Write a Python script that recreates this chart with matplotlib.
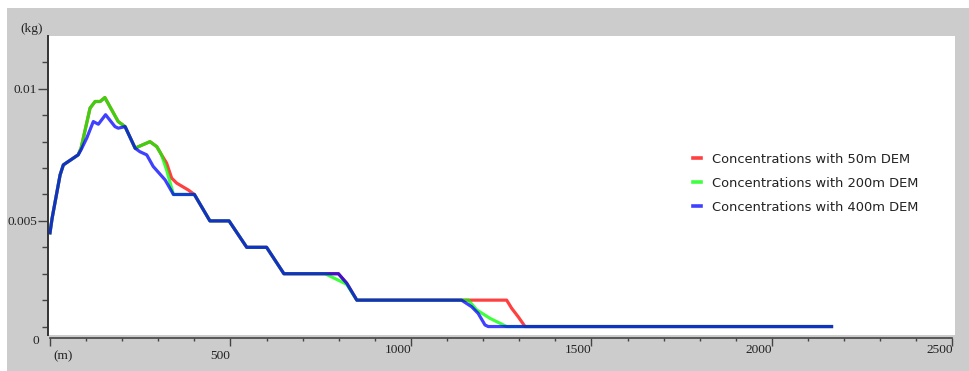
import matplotlib
matplotlib.use("Agg")
import matplotlib.pyplot as plt
from matplotlib.patches import Rectangle
from matplotlib.ticker import FixedLocator, MultipleLocator
import matplotlib.transforms as mtrans

# ---------------- data ----------------
x_50 = [0, 6, 28, 37, 78, 86, 111, 125, 139, 152, 189, 208, 236, 245, 277, 296,
        309, 323, 337, 351, 383, 400, 443, 496, 545, 600, 648, 799, 822, 850,
        1265, 1279, 1297, 1316, 2165]
y_50 = [0.00455, 0.00511, 0.00674, 0.00712, 0.0075, 0.00775, 0.00927, 0.00952,
        0.00952, 0.00967, 0.00876, 0.00857, 0.00775, 0.00781, 0.0080, 0.00781,
        0.0075, 0.00719, 0.00662, 0.00643, 0.00617, 0.006, 0.005, 0.005, 0.004,
        0.004, 0.003, 0.003, 0.00264, 0.002, 0.002, 0.00169, 0.00137, 0.001, 0.001]

x_200 = [0, 6, 28, 37, 78, 86, 111, 125, 139, 152, 189, 208, 236, 245, 277, 296,
         309, 323, 337, 342, 400, 443, 496, 545, 600, 648, 762, 822, 850,
         1159, 1182, 1219, 1265, 2165]
y_200 = [0.00455, 0.00511, 0.00674, 0.00712, 0.0075, 0.00775, 0.00927, 0.00952,
         0.00952, 0.00967, 0.00876, 0.00857, 0.00775, 0.00781, 0.0080, 0.00781,
         0.0075, 0.00693, 0.00624, 0.006, 0.006, 0.005, 0.005, 0.004, 0.004,
         0.003, 0.003, 0.0026, 0.002, 0.002, 0.00163, 0.00131, 0.001, 0.001]

x_400 = [0, 6, 28, 37, 78, 86, 102, 120, 134, 154, 180, 189, 208, 236, 249, 268,
         286, 319, 342, 400, 443, 496, 545, 600, 648, 799, 822, 850, 1140, 1168,
         1186, 1205, 1214, 2165]
y_400 = [0.00455, 0.00511, 0.00674, 0.00712, 0.0075, 0.00769, 0.00814, 0.00876,
         0.00866, 0.00902, 0.00857, 0.00851, 0.00857, 0.00775, 0.00762, 0.0075,
         0.00706, 0.00655, 0.006, 0.006, 0.005, 0.005, 0.004, 0.004, 0.003, 0.003,
         0.00264, 0.002, 0.002, 0.00175, 0.0015, 0.00106, 0.001, 0.001]

labels = ["Concentrations with 50m DEM",
          "Concentrations with 200m DEM",
          "Concentrations with 400m DEM"]
colors = ["#ff0000", "#00ff00", "#0000ff"]

x_ticks = [0, 500, 1000, 1500, 2000, 2500]
x_tick_labels = ["(m)", "500", "1000", "1500", "2000", "2500"]
y_ticks = [0.005, 0.01]
y_tick_labels = ["0.005", "0.01"]
y_minor = [0.001, 0.002, 0.003, 0.004, 0.006, 0.007, 0.008, 0.009, 0.011]

# ---------------- figure ----------------
W, H = 969, 371
fig = plt.figure(figsize=(W / 100, H / 100), dpi=100)
fig.patch.set_facecolor("white")
fig.patches.append(Rectangle((7 / W, 0), 1, 1 - 8 / H, transform=fig.transFigure,
                             facecolor="#cccccc", edgecolor="none", zorder=-10))

L, R, T, B = 48, 955, 36, 335
ax = fig.add_axes([L / W, 1 - B / H, (R - L) / W, (B - T) / H])
ax.set_facecolor("white")

for xs, ys, c, lab in zip([x_50, x_200, x_400], [y_50, y_200, y_400], colors, labels):
    ax.plot(xs, ys, color=c, alpha=0.75, lw=2.3, label=lab, solid_joinstyle="round")

ax.set_xlim(-5.5, 2507)
ax.set_ylim(0.00068, 0.012)

serif = "Liberation Serif"
fs_tick = 9.6
for s in ["top", "right"]:
    ax.spines[s].set_visible(False)
ax.spines["left"].set_color("#333333")
ax.spines["left"].set_linewidth(1.4)
ax.spines["bottom"].set_color("#444444")
ax.spines["bottom"].set_linewidth(1.2)
ax.spines["bottom"].set_position(("outward", 2.5))
ax.spines["bottom"].set_bounds(0, 2500)

ax.set_xticks(x_ticks)
ax.set_xticklabels(x_tick_labels, fontfamily=serif, fontsize=fs_tick, color="#222222")
ax.xaxis.set_minor_locator(MultipleLocator(100))
ax.tick_params(axis="x", which="major", length=6, width=1, color="#444444", pad=-2)
ax.tick_params(axis="x", which="minor", length=2.5, width=1, color="#444444")

for lbl in ax.get_xticklabels():
    if lbl.get_text() == "(m)":
        lbl.set_ha("left")
        lbl.set_transform(lbl.get_transform() +
                          mtrans.ScaledTranslation(3 / 100, -6 / 100, fig.dpi_scale_trans))
    elif lbl.get_text() == "500":
        lbl.set_ha("right")
        lbl.set_transform(lbl.get_transform() +
                          mtrans.ScaledTranslation(0, -6 / 100, fig.dpi_scale_trans))
    else:
        lbl.set_ha("right")

ax.set_yticks(y_ticks)
ax.set_yticklabels(y_tick_labels, fontfamily=serif, fontsize=fs_tick, color="#222222")
ax.yaxis.set_minor_locator(FixedLocator(y_minor))
ax.tick_params(axis="y", which="major", length=7, width=1, color="#444444", pad=1)
ax.tick_params(axis="y", which="minor", length=4.5, width=1, color="#444444")

fig.text(36 / W, 1 - 341 / H, "0", fontfamily=serif, fontsize=fs_tick, color="#222222",
         ha="center", va="center")
fig.text(32 / W, 1 - 29 / H, "(kg)", fontfamily=serif, fontsize=fs_tick, color="#222222",
         ha="center", va="center")

leg = ax.legend(loc="upper left", bbox_to_anchor=(693 / W, 1 - 153 / H),
                bbox_transform=fig.transFigure, frameon=False,
                prop={"family": "DejaVu Sans", "size": 9.4},
                handlelength=0.62, handletextpad=0.8, labelspacing=0.84,
                borderpad=0, borderaxespad=0)
for t in leg.get_texts():
    t.set_color("#222222")
for h in leg.get_lines():
    h.set_linewidth(2.6)

fig.savefig("out.png", dpi=100, facecolor=fig.get_facecolor())
